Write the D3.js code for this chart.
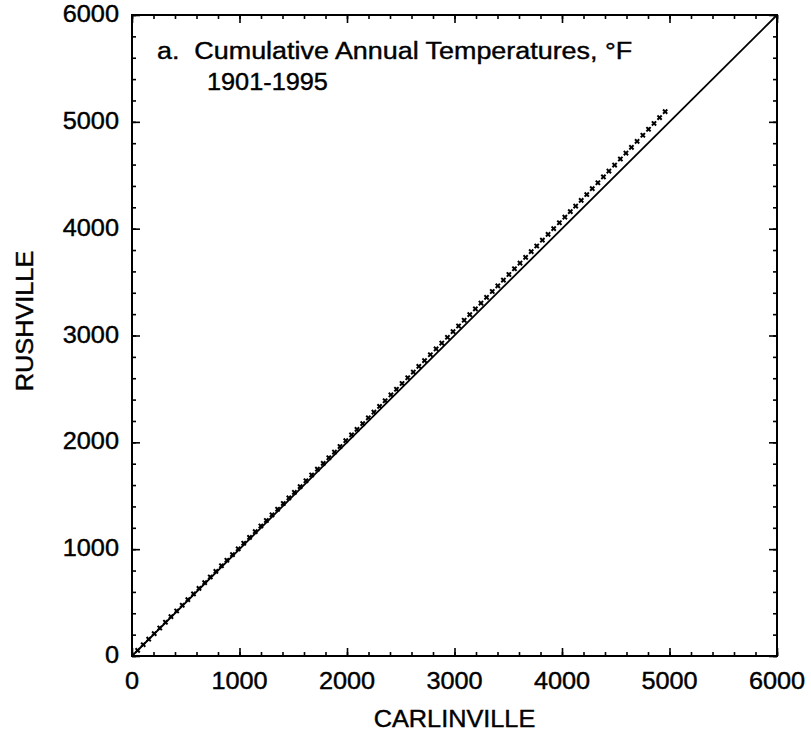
<!DOCTYPE html>
<html lang="en">
<head>
    <meta charset="UTF-8">
    <title>Cumulative Annual Temperatures</title>
    <script src="https://cdn.jsdelivr.net/npm/d3@7"></script>
    <style>
        body {
            margin: 0;
            background: #fff;
        }

        svg {
            width: 811px;
            height: 733px;
            font-family: "Liberation Sans", Arial, sans-serif;
        }

        .frame {
            fill: none;
            stroke: #000;
            stroke-width: 2px;
        }

        .axis path {
            display: none;
        }

        .axis line {
            stroke: #000;
            stroke-width: 1.6px;
        }

        .label {
            font-size: 23px;
            fill: #000;
            stroke: #000;
            stroke-width: 0.4px;
        }
    </style>
</head>
<body>
<svg></svg>

<script>

    // annual mean temperature (deg F), 1901-1995
    var carlinville = [
        52.4, 51.8, 51.2, 51.0, 51.9, 52.6, 51.5, 52.9, 52.3, 51.7,
        52.8, 50.9, 53.0, 52.1, 52.0, 51.8, 50.6, 52.2, 53.1, 51.4,
        54.2, 53.0, 52.4, 51.0, 52.7, 51.9, 52.8, 52.0, 51.5, 53.3,
        54.0, 53.2, 53.6, 54.1, 51.9, 52.5, 51.8, 53.7, 53.5, 50.8,
        52.9, 52.4, 52.0, 52.6, 51.7, 53.8, 51.6, 52.1, 52.7, 51.9,
        51.3, 53.2, 54.0, 53.5, 53.0, 52.6, 52.0, 51.4, 52.3, 51.8,
        52.4, 51.9, 52.0, 53.1, 51.6, 52.2, 51.0, 51.7, 51.5, 52.3,
        52.0, 51.3, 52.7, 52.9, 52.1, 53.0, 51.0, 50.6, 49.9, 51.4,
        51.8, 51.2, 52.3, 51.5, 51.0, 53.0, 53.4, 52.1, 51.2, 52.5,
        53.6, 52.8, 51.0, 51.8, 51.9
    ];

    var rushville = [
        53.3, 52.4, 52.2, 51.7, 52.7, 53.5, 52.1, 53.7, 53.2, 52.5,
        53.6, 51.9, 53.6, 53.0, 52.7, 52.6, 51.6, 52.9, 53.9, 52.1,
        54.7, 53.7, 53.0, 51.4, 53.5, 52.5, 53.3, 52.7, 52.1, 53.9,
        54.7, 53.7, 54.2, 54.7, 52.3, 53.2, 52.4, 54.2, 54.3, 51.4,
        54.1, 53.8, 53.1, 54.1, 53.0, 55.0, 53.0, 53.4, 53.9, 53.3,
        52.7, 54.4, 55.3, 54.6, 54.5, 53.9, 53.2, 52.8, 53.6, 53.1,
        53.9, 53.6, 53.6, 54.5, 53.4, 53.8, 52.5, 53.4, 53.1, 53.9,
        53.7, 52.8, 54.3, 54.7, 53.5, 54.6, 52.7, 52.1, 51.5, 53.0,
        54.9, 54.7, 55.5, 54.9, 54.3, 56.2, 56.8, 55.4, 54.4, 55.9,
        56.9, 56.2, 54.2, 55.1, 55.2
    ];

    var oneToOne = [0, 6000];
    var majorTicks = [0, 1000, 2000, 3000, 4000, 5000, 6000];
    var minorTicks = d3.range(0, 6001, 200);
    var tickLabels = ['0', '1000', '2000', '3000', '4000', '5000', '6000'];

    var svg = d3.select('svg');

    var pLeft = 132, pRight = 777, pTop = 15, pBottom = 656;
    var stretch = 1.1;

    var x = d3.scaleLinear().domain([0, 6000]).range([pLeft, pRight]);
    var y = d3.scaleLinear().domain([0, 6000]).range([pBottom, pTop]);

    // cumulative (double-mass) values
    var cumC = d3.cumsum(carlinville);
    var cumR = d3.cumsum(rushville);
    var points = [];
    for (var i = 0; i < cumC.length; i++) {
        points.push({c: cumC[i], r: cumR[i]});
    }

    // ticks, inward on all four sides
    function addTicks(axisFn, scale, translate, values, len) {
        svg.append('g')
            .attr('class', 'axis')
            .attr('transform', translate)
            .call(axisFn(scale).tickValues(values).tickSize(-len).tickFormat(''));
    }

    [[minorTicks, 4], [majorTicks, 8]].forEach(function (t) {
        addTicks(d3.axisBottom, x, 'translate(0,' + pBottom + ')', t[0], t[1]);
        addTicks(d3.axisTop, x, 'translate(0,' + pTop + ')', t[0], t[1]);
        addTicks(d3.axisLeft, y, 'translate(' + pLeft + ',0)', t[0], t[1]);
        addTicks(d3.axisRight, y, 'translate(' + pRight + ',0)', t[0], t[1]);
    });

    svg.append('rect')
        .attr('class', 'frame')
        .attr('x', pLeft)
        .attr('y', pTop)
        .attr('width', pRight - pLeft)
        .attr('height', pBottom - pTop);

    // 1:1 line
    svg.append('line')
        .attr('x1', x(oneToOne[0]))
        .attr('y1', y(oneToOne[0]))
        .attr('x2', x(oneToOne[1]))
        .attr('y2', y(oneToOne[1]))
        .attr('stroke', '#000')
        .attr('stroke-width', 1.8);

    // x-shaped markers: a filled cross turned 45 degrees
    svg.selectAll('.pt')
        .data(points)
        .enter()
        .append('path')
        .attr('class', 'pt')
        .attr('d', d3.symbol().type(d3.symbolCross).size(20))
        .attr('transform', function (d) {
            return 'translate(' + x(d.c) + ',' + y(d.r) + ') rotate(45)';
        })
        .attr('fill', '#000');

    // text helper, fonts in the scan are a bit wider than Arial
    function label(px, py, txt, anchor, rotate, sx) {
        var g = svg.append('g')
            .attr('transform', 'translate(' + px + ',' + py + ')' + (rotate ? ' rotate(' + rotate + ')' : ''));
        g.append('text')
            .attr('class', 'label')
            .attr('text-anchor', anchor)
            .attr('transform', 'scale(' + (sx || stretch) + ',1)')
            .style('white-space', 'pre')
            .text(txt);
        return g;
    }

    majorTicks.forEach(function (v, i) {
        label(x(v), pBottom + 32.5, tickLabels[i], 'middle');
        label(pLeft - 13, y(v) + 7, tickLabels[i], 'end');
    });

    label(157, 58.5, 'a.  Cumulative Annual Temperatures, \u00b0F', 'start', 0, 1.17);
    label(207, 89.5, '1901-1995', 'start');

    label((pLeft + pRight) / 2, 727, 'CARLINVILLE', 'middle');
    label(33, 321, 'RUSHVILLE', 'middle', -90);

</script>

</body>
</html>
